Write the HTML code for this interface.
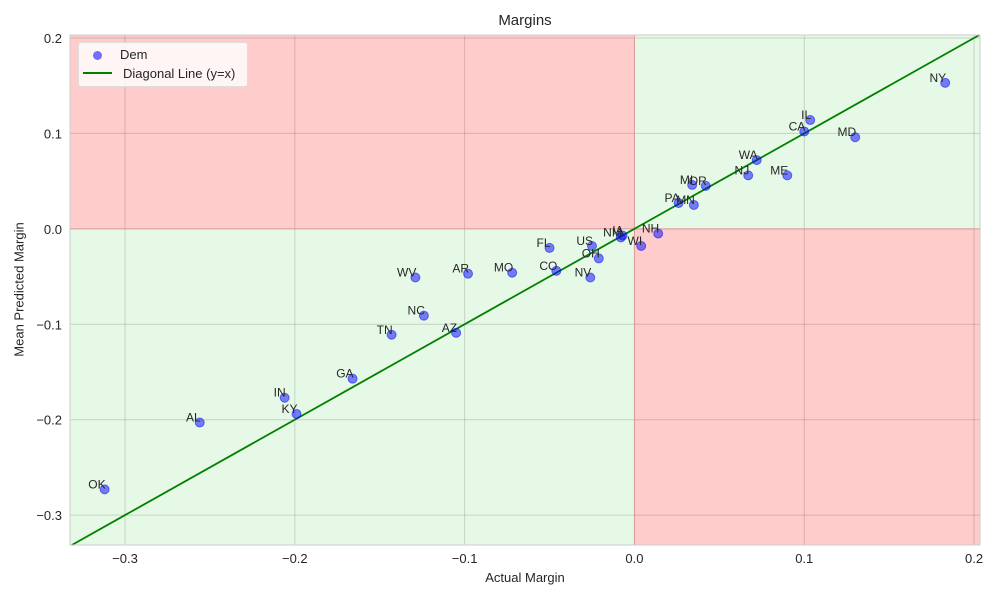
<!DOCTYPE html>
<html><head><meta charset="utf-8"><style>
body{margin:0;background:#fff;font-family:"Liberation Sans",sans-serif}
svg text{font-family:"Liberation Sans",sans-serif;fill:#262626}
</style></head><body>
<svg id="c" width="1000" height="600"></svg>
<script>
const states=["NY","IL","CA","MD","WA","NJ","ME","MI","OR","PA","MN","NH","WI","IA","NM","FL","US","OH","CO","NV","MO","AR","WV","NC","TN","AZ","GA","IN","KY","AL","OK"];
const actual=[0.183,0.1035,0.100,0.130,0.072,0.067,0.090,0.034,0.042,0.026,0.035,0.014,0.004,-0.007,-0.008,-0.050,-0.025,-0.021,-0.046,-0.026,-0.072,-0.098,-0.129,-0.124,-0.143,-0.105,-0.166,-0.206,-0.199,-0.256,-0.312];
const predicted=[0.153,0.114,0.102,0.096,0.072,0.056,0.056,0.046,0.045,0.027,0.025,-0.005,-0.018,-0.007,-0.009,-0.020,-0.018,-0.031,-0.044,-0.051,-0.046,-0.047,-0.051,-0.091,-0.111,-0.109,-0.157,-0.177,-0.194,-0.203,-0.273];
const xTicks=[-0.3,-0.2,-0.1,0.0,0.1,0.2];
const yTicks=[-0.3,-0.2,-0.1,0.0,0.1,0.2];
const xMin=-0.3324,xMax=0.2035,yMin=-0.3313,yMax=0.2031;
const L=70,R=980,T=35,B=545;
const sx=v=>L+(v-xMin)/(xMax-xMin)*(R-L);
const sy=v=>B-(v-yMin)/(yMax-yMin)*(B-T);
const svg=document.getElementById('c');const NS='http://www.w3.org/2000/svg';
function mk(t,a,p){const e=document.createElementNS(NS,t);for(const k in a)e.setAttribute(k,a[k]);(p||svg).appendChild(e);return e;}
const x0=sx(0),y0=sy(0);
let r;
r=mk('rect',{x:L,y:T,width:x0-L,height:y0-T,fill:'#ffcccc'});

r=mk('rect',{x:x0,y:y0,width:R-x0,height:B-y0,fill:'#ffcccc'});

r=mk('rect',{x:x0,y:T,width:R-x0,height:y0-T,fill:'#e6f9e6'});

r=mk('rect',{x:L,y:y0,width:x0-L,height:B-y0,fill:'#e6f9e6'});

xTicks.forEach(v=>{const g=mk('line',{x1:sx(v),x2:sx(v),y1:T,y2:B,stroke:'rgba(0,0,0,0.15)','stroke-width':1});

const t=mk('text',{x:sx(v),y:B+18,'text-anchor':'middle','font-size':13});t.textContent=v.toFixed(1).replace('-','−');
});
yTicks.forEach(v=>{const g=mk('line',{x1:L,x2:R,y1:sy(v),y2:sy(v),stroke:'rgba(0,0,0,0.15)','stroke-width':1});

const t=mk('text',{x:L-8,y:sy(v)+5,'text-anchor':'end','font-size':13});t.textContent=v.toFixed(1).replace('-','−');
});
r=mk('line',{x1:x0,x2:x0,y1:T,y2:B,stroke:'#e09a9a','stroke-width':1});

r=mk('line',{x1:L,x2:R,y1:y0,y2:y0,stroke:'#e09a9a','stroke-width':1});

const lo=Math.max(xMin,yMin),hi=Math.min(xMax,yMax);
r=mk('line',{x1:sx(lo),y1:sy(lo),x2:sx(hi),y2:sy(hi),stroke:'#008000','stroke-width':1.8});

states.forEach((s,i)=>{const c=mk('circle',{cx:sx(actual[i]),cy:sy(predicted[i]),r:4.5,fill:'rgba(0,0,255,0.5)',stroke:'rgba(0,0,255,0.5)','stroke-width':1});

const t=mk('text',{x:sx(actual[i])+1,y:sy(predicted[i])-1,'text-anchor':'end','font-size':12});t.textContent=s;
});
r=mk('rect',{x:L,y:T,width:R-L,height:B-T,fill:'none',stroke:'#ccc','stroke-width':1});

</script>
<div style="position:absolute;left:78px;top:42px;width:168px;height:43px;background:rgba(255,255,255,0.8);border:1px solid #ddd;border-radius:3px;font-size:13px;color:#262626">
<div style="position:absolute;left:14px;top:4px;"><span style="display:inline-block;width:9px;height:9px;border-radius:50%;background:rgba(0,0,255,0.55);margin-right:18px;vertical-align:-1px"></span>Dem</div>
<div style="position:absolute;left:4px;top:23px;"><span style="display:inline-block;width:29px;height:2px;background:#008000;margin-right:11px;vertical-align:4px"></span>Diagonal Line (y=x)</div>
</div>
<div style="position:absolute;left:0;width:1050px;top:12px;text-align:center;font-size:15px;color:#262626">Margins</div>
<div style="position:absolute;left:0;width:1050px;top:570px;text-align:center;font-size:13px;color:#262626">Actual Margin</div>
<div style="position:absolute;left:-56px;top:282px;width:150px;text-align:center;transform:rotate(-90deg);font-size:13px;color:#262626">Mean Predicted Margin</div>
</body></html>
